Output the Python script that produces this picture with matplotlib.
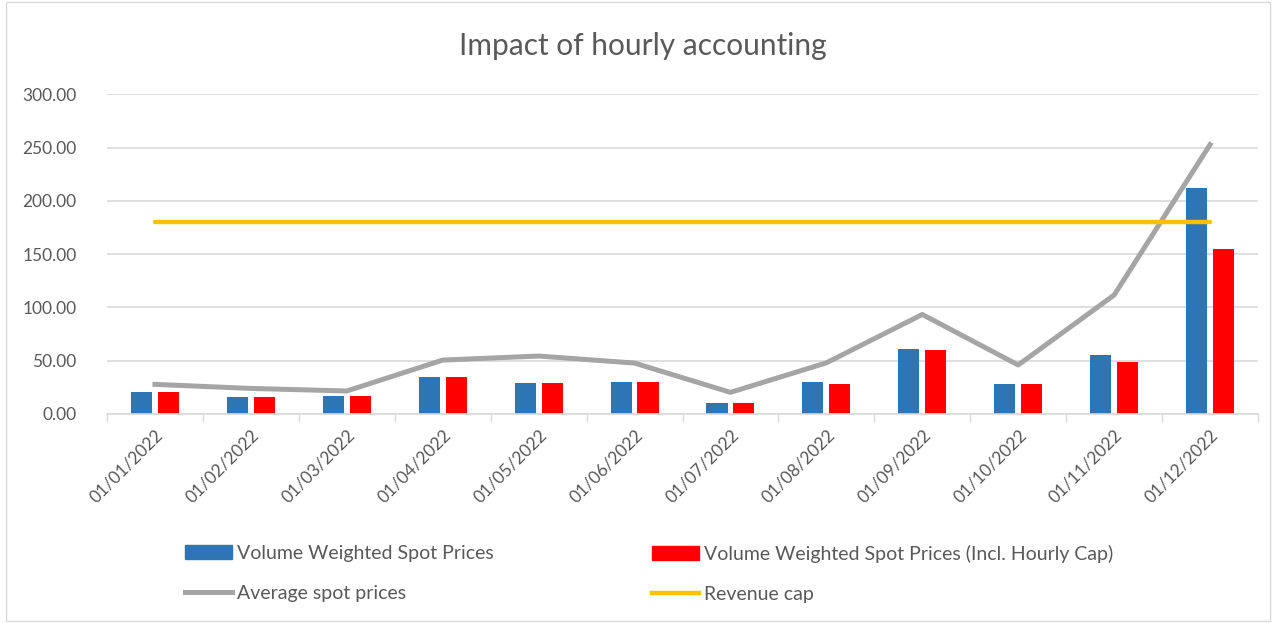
import matplotlib.pyplot as plt
from matplotlib.patches import Patch, Rectangle
from matplotlib.lines import Line2D
import numpy as np

plt.rcParams['font.family'] = ['Lato', 'DejaVu Sans']

# Data
months = ["01/01/2022", "01/02/2022", "01/03/2022", "01/04/2022", "01/05/2022", "01/06/2022",
          "01/07/2022", "01/08/2022", "01/09/2022", "01/10/2022", "01/11/2022", "01/12/2022"]
vw_spot = [20.5, 15.5, 16.5, 34.5, 29.0, 30.0, 10.0, 30.0, 61.0, 28.0, 55.5, 212.5]
vw_spot_cap = [20.5, 15.5, 16.5, 34.5, 29.0, 30.0, 10.0, 28.5, 60.0, 28.0, 49.0, 154.5]
avg_spot = [27.8, 24.0, 21.6, 50.6, 54.4, 47.8, 20.3, 48.0, 93.4, 46.0, 111.6, 252.8]
revenue_cap = [180.0] * 12

blue = "#2E75B6"
red = "#FF0000"
grey = "#A5A5A5"
gold = "#FFC000"
txt = "#595959"

W, H = 1276, 623
fig = plt.figure(figsize=(W / 100, H / 100), dpi=100)
fig.patches.append(Rectangle((6 / W, 2 / H), 1 - 12 / W, 1 - 4 / H, transform=fig.transFigure,
                             fill=False, edgecolor="#d9d9d9", linewidth=1))

ax = fig.add_axes([107 / W, 1 - 414 / H, (1258 - 107) / W, (414 - 94.3) / H])
x = np.arange(len(months))
ax.bar(x - 0.14, vw_spot, width=0.22, color=blue, zorder=2)
ax.bar(x + 0.14, vw_spot_cap, width=0.22, color=red, zorder=2)
ax.plot(x, avg_spot, color=grey, linewidth=3.6, zorder=3)
ax.plot(x, revenue_cap, color=gold, linewidth=3.2, solid_capstyle="round", zorder=3)

ax.set_xlim(-0.5, len(months) - 0.5)
ax.set_ylim(0, 300)
ax.set_yticks(np.arange(0, 301, 50))
ax.set_yticklabels([f"{v:.2f}" for v in np.arange(0, 301, 50)], fontsize=12.5, color=txt)
ax.yaxis.grid(True, color="#d9d9d9", linewidth=1.2, zorder=0)
ax.set_axisbelow(True)
ax.tick_params(axis="y", length=0, pad=22)

ax.set_xticks(x)
ax.set_xticklabels(months, rotation=45, ha="right", rotation_mode="anchor", fontsize=12.5, color=txt)
ax.tick_params(axis="x", length=0, pad=9)
ax.set_xticks(np.arange(-0.5, len(months)), minor=True)
ax.tick_params(axis="x", which="minor", length=6, color="#d9d9d9", width=1)

for s in ["top", "right", "left"]:
    ax.spines[s].set_visible(False)
ax.spines["bottom"].set_color("#d9d9d9")
ax.spines["bottom"].set_linewidth(1.2)

fig.text(643 / W, 1 - 46 / H, "Impact of hourly accounting", ha="center", va="center",
         fontsize=21.5, color=txt)

h1 = [Patch(color=blue), Line2D([], [], color=grey, linewidth=3.6)]
l1 = ["Volume Weighted Spot Prices", "Average spot prices"]
h2 = [Patch(color=red), Line2D([], [], color=gold, linewidth=3.2)]
l2 = ["Volume Weighted Spot Prices (Incl. Hourly Cap)", "Revenue cap"]
for hs, ls, xl in [(h1, l1, 185), (h2, l2, 652)]:
    fig.legend(hs, ls, loc="upper left", bbox_to_anchor=(xl / W, 1 - 545 / H), frameon=False,
               fontsize=14, labelcolor=txt, handlelength=2.4, handleheight=0.75,
               handletextpad=0.25, labelspacing=1.2, borderpad=0, borderaxespad=0)

fig.savefig("out.png", dpi=100)
